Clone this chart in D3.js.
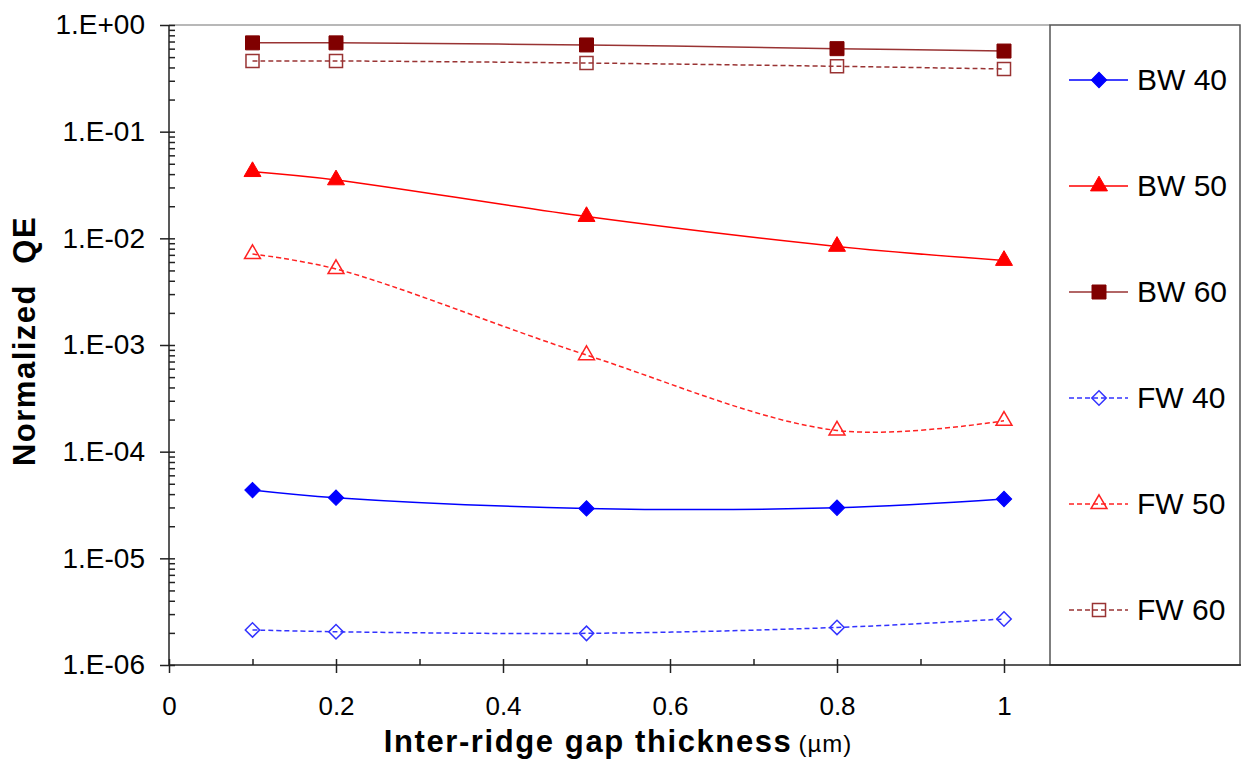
<!DOCTYPE html>
<meta charset="utf-8">
<style>
body { margin: 0; background: #fff; }
text { font-family: Arial, "Liberation Sans", sans-serif; fill: #000; }
.line { fill: none; stroke-width: 1.5px; }
</style>
<svg width="1241" height="761"></svg>
<script src="https://d3js.org/d3.v7.min.js"></script>
<script>
// data
var gaps = [0.1, 0.2, 0.5, 0.8, 1.0];
var bw40 = [4.37e-5, 3.7e-5, 2.94e-5, 2.98e-5, 3.6e-5];
var bw50 = [0.0422, 0.0353, 0.0160, 0.0084, 0.0062];
var bw60 = [0.68, 0.68, 0.65, 0.60, 0.57];
var fw40 = [2.13e-6, 2.05e-6, 1.98e-6, 2.25e-6, 2.7e-6];
var fw50 = [0.00713, 0.00516, 0.000805, 0.000158, 0.000195];
var fw60 = [0.46, 0.46, 0.44, 0.41, 0.387];

var xTicks = [0, 0.2, 0.4, 0.6, 0.8, 1];
var xTickLabels = ["0", "0.2", "0.4", "0.6", "0.8", "1"];
var yTicks = [1e-6, 1e-5, 1e-4, 1e-3, 1e-2, 1e-1, 1];
var yTickLabels = ["1.E-06", "1.E-05", "1.E-04", "1.E-03", "1.E-02", "1.E-01", "1.E+00"];

var series = [
  {name: "BW 40", values: bw40, line: "#0000ff", mark: "#0000ff", shape: "diamond", filled: true,  dash: null},
  {name: "BW 50", values: bw50, line: "#ff0000", mark: "#ff0000", shape: "triangle", filled: true, dash: null},
  {name: "BW 60", values: bw60, line: "#993333", mark: "#800000", shape: "square", filled: true,   dash: null},
  {name: "FW 40", values: fw40, line: "#3333ff", mark: "#3333ff", shape: "diamond", filled: false, dash: "5,3"},
  {name: "FW 50", values: fw50, line: "#ff2222", mark: "#ff2222", shape: "triangle", filled: false, dash: "5,3"},
  {name: "FW 60", values: fw60, line: "#993333", mark: "#993333", shape: "square", filled: false,  dash: "5,3"}
];

var svg = d3.select("svg"),
    margin = {top: 25, left: 169, bottom: 96},
    height = +svg.attr("height") - margin.top - margin.bottom,
    plotRight = 1050 - margin.left,
    legendRight = 1240 - margin.left,
    g = svg.append("g").attr("transform", "translate(" + margin.left + "," + margin.top + ")");

svg.insert("rect", ":first-child").attr("width", 1241).attr("height", 761).attr("fill", "#fff");

var x = d3.scaleLinear().domain([0, 1]).range([0, 835]),
    y = d3.scaleLog().domain([1e-6, 1]).range([height, 0]);

// minor ticks
var yMinor = [];
yTicks.slice(0, -1).forEach(function(t) { for (var k = 2; k <= 9; k++) yMinor.push(t * k); });
var xMinor = d3.range(0, 11).map(function(i) { return i / 10; });

// plot top border
g.append("line").attr("x1", 0).attr("x2", plotRight).attr("y1", 0).attr("y2", 0)
  .attr("stroke", "#a0a0a0").attr("stroke-width", 1.5);

// legend box
g.append("rect")
  .attr("x", plotRight).attr("y", 0)
  .attr("width", legendRight - plotRight).attr("height", height)
  .attr("fill", "#fff").attr("stroke", "#555").attr("stroke-width", 1.5);

// y axis
g.append("g")
  .call(d3.axisLeft(y).tickValues(yTicks).tickSize(9).tickPadding(15)
    .tickFormat(function(d, i) { return yTickLabels[i]; }))
  .call(function(a) {
    a.select(".domain").remove();
    a.selectAll("line").attr("stroke", "#222").attr("stroke-width", 1.5);
    a.selectAll("text").style("font-size", "28px").attr("fill", "#000");
  });
g.append("g")
  .call(d3.axisLeft(y).tickValues(yTicks.concat(yMinor)).tickSize(-6).tickFormat(""))
  .call(function(a) {
    a.select(".domain").remove();
    a.selectAll("line").attr("stroke", "#222").attr("stroke-width", 1.5);
  });

// x axis
g.append("g")
  .attr("transform", "translate(0," + height + ")")
  .call(d3.axisBottom(x).tickValues(xTicks).tickSize(8).tickPadding(24)
    .tickFormat(function(d, i) { return xTickLabels[i]; }))
  .call(function(a) {
    a.select(".domain").remove();
    a.selectAll("line").attr("stroke", "#222").attr("stroke-width", 1.5);
    a.selectAll("text").style("font-size", "26px").attr("fill", "#000");
  });
g.append("g")
  .attr("transform", "translate(0," + height + ")")
  .call(d3.axisBottom(x).tickValues(xMinor).tickSize(-6).tickFormat(""))
  .call(function(a) {
    a.select(".domain").remove();
    a.selectAll("line").attr("stroke", "#222").attr("stroke-width", 1.5);
  });

// axis lines
g.append("line").attr("x1", 0).attr("x2", 0).attr("y1", 0).attr("y2", height)
  .attr("stroke", "#222").attr("stroke-width", 1.5);
g.append("line").attr("x1", 0).attr("x2", legendRight + 1).attr("y1", height).attr("y2", height)
  .attr("stroke", "#222").attr("stroke-width", 1.5);

// markers
function marker(sel, s) {
  var path;
  if (s.shape === "diamond") {
    path = d3.symbol().type(d3.symbolSquare).size(s.filled ? 118 : 104)();
  } else if (s.shape === "triangle") {
    path = d3.symbol().type(d3.symbolTriangle).size(s.filled ? 125 : 110)();
  } else {
    path = d3.symbol().type(d3.symbolSquare).size(s.filled ? 196 : 170)();
  }
  sel.append("path")
    .attr("d", path)
    .attr("transform", function() {
      var t = d3.select(this.parentNode).attr("data-t") || "";
      return t + (s.shape === "diamond" ? " rotate(45)" : "");
    })
    .attr("fill", s.filled ? s.mark : "none")
    .attr("stroke", s.mark)
    .attr("stroke-width", s.filled ? 1 : 1.5);
}

var line = d3.line()
  .curve(d3.curveCatmullRom.alpha(0.5))
  .x(function(d) { return x(d.gap); })
  .y(function(d) { return y(d.qe); });

var serie = g.selectAll(".serie")
  .data(series)
  .enter().append("g")
    .attr("class", "serie");

serie.append("path")
  .attr("class", "line")
  .attr("d", function(s) {
    return line(s.values.map(function(v, i) { return {gap: gaps[i], qe: v}; }));
  })
  .attr("stroke", function(s) { return s.line; })
  .attr("stroke-dasharray", function(s) { return s.dash; });

serie.each(function(s) {
  var grp = d3.select(this);
  s.values.forEach(function(v, i) {
    var m = grp.append("g")
      .attr("transform", "translate(" + x(gaps[i]) + "," + y(v) + ")");
    marker(m, s);
  });
});

// legend
var ly = d3.scalePoint().domain(series.map(function(s) { return s.name; })).range([55, 585]);
var legend = g.selectAll(".legend")
  .data(series)
  .enter().append("g")
    .attr("class", "legend")
    .attr("transform", function(s) { return "translate(" + (plotRight + 49) + "," + ly(s.name) + ")"; });

legend.append("line")
  .attr("x1", -30).attr("x2", 29)
  .attr("stroke", function(s) { return s.line; })
  .attr("stroke-width", 1.5)
  .attr("stroke-dasharray", function(s) { return s.dash; });

legend.each(function(s) { marker(d3.select(this).append("g"), s); });

legend.append("text")
  .attr("x", 38)
  .attr("y", 10)
  .style("font-size", "30px")
  .text(function(s) { return s.name; });

// axis titles
var xt = svg.append("text")
  .attr("x", 618)
  .attr("y", 752)
  .attr("text-anchor", "middle");
xt.append("tspan")
  .style("font-size", "31px").style("font-weight", "bold").style("letter-spacing", "1.6px")
  .text("Inter-ridge gap thickness");
xt.append("tspan")
  .attr("dx", 6)
  .style("font-size", "24px").style("letter-spacing", "1px")
  .text("(\u00b5m)");

svg.append("text")
  .attr("transform", "translate(35,341) rotate(-90)")
  .attr("text-anchor", "middle")
  .style("font-size", "31px").style("font-weight", "bold").style("letter-spacing", "1.5px")
  .text("Normalized\u00a0\u00a0QE");
</script>
